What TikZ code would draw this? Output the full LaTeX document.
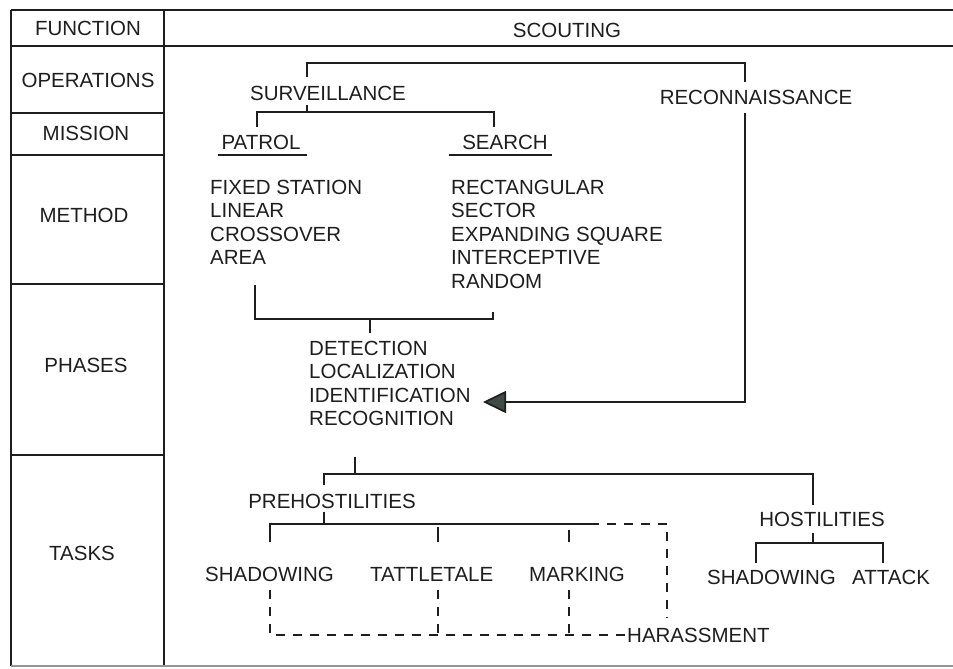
\documentclass[tikz,border=0pt]{standalone}
\usepackage{fontspec}
\setmainfont{Liberation Sans}
\usetikzlibrary{arrows.meta}
\definecolor{ink}{RGB}{30,30,30}
\definecolor{tipfill}{RGB}{62,76,70}
\definecolor{rulegray}{RGB}{150,150,150}
\newcommand{\lab}{\fontsize{20.5}{23.4}\selectfont}
\tikzset{
  lbl/.style={inner sep=0pt, text height=14.7pt, text depth=0pt, font=\lab, text=ink},
  lblw/.style={lbl, anchor=west},
  ln/.style={draw=ink, line width=1.7pt},
  dsh/.style={draw=ink, line width=1.7pt, dash pattern=on 9pt off 8pt},
  frame/.style={draw=ink, line width=1.5pt}
}
\begin{document}
\begin{tikzpicture}[x=1pt,y=-1pt]
\useasboundingbox (0,0) rectangle (953,669);
\fill[white] (0,0) rectangle (953,669);

% table frame
\draw[frame] (11,10) -- (953,10);
\draw[frame] (11,46) -- (953,46);
\draw[frame] (11,10) -- (11,666);
\draw[frame] (164,10) -- (164,666);
\draw[frame] (11,113) -- (164,113);
\draw[frame] (11,155) -- (164,155);
\draw[frame] (11,284) -- (164,284);
\draw[frame] (11,455) -- (164,455);
\draw[draw=rulegray, line width=2pt] (11,666) -- (953,666);

% row headings
\node[lbl] (fn)  at (88,28)  {FUNCTION};
\node[lbl] (ops) at (88,80)  {OPERATIONS};
\node[lbl] (mis) at (86,133) {MISSION};
\node[lbl] (met) at (84,215) {METHOD};
\node[lbl] (pha) at (86,365) {PHASES};
\node[lbl] (tsk) at (82,553) {TASKS};
\node[lbl] (sc)  at (567,30) {SCOUTING};

% operations
\node[lbl] (surv)  at (328,93) {SURVEILLANCE};
\node[lbl] (recon) at (756,97) {RECONNAISSANCE};
\coordinate (opl) at (307,63);
\coordinate (opr) at (745,63);
\draw[ln] (307,77) -- (opl) -- (opr) -- (745,82);

% missions
\node[lbl] (patrol) at (261,142) {PATROL};
\node[lbl] (search) at (505,142) {SEARCH};
\coordinate (msl) at (257,112);
\coordinate (msr) at (494,112);
\draw[ln] (307,105) -- (307,112);
\draw[ln] (257,127) -- (msl) -- (msr) -- (494,127);
\draw[ln] (218,155) -- (307,155);
\draw[ln] (449,155) -- (552,155);

% methods
\node[lblw] (fix)  at (210,187)   {FIXED STATION};
\node[lblw] (lin)  at (210,210.5) {LINEAR};
\node[lblw] (cro)  at (210,234)   {CROSSOVER};
\node[lblw] (are)  at (210,257.5) {AREA};
\node[lblw] (rec)  at (451,187)   {RECTANGULAR};
\node[lblw] (sec)  at (451,210.5) {SECTOR};
\node[lblw] (exp)  at (451,234)   {EXPANDING SQUARE};
\node[lblw] (int)  at (451,257.5) {INTERCEPTIVE};
\node[lblw] (ran)  at (451,281)   {RANDOM};
\coordinate (mbl) at (255,319);
\coordinate (mbr) at (493,319);
\draw[ln] (255,285) -- (mbl) -- (mbr) -- (493,312);
\draw[ln] (370,319) -- (370,333);

% phases
\node[lblw] (det) at (309,348) {DETECTION};
\node[lblw] (loc) at (309,371) {LOCALIZATION};
\node[lblw] (idf) at (309,395) {IDENTIFICATION};
\node[lblw] (rcg) at (309,418) {RECOGNITION};
\coordinate (rcorner) at (745,402);
\coordinate (tip) at (483,402);
\draw[ln, -{Triangle[length=23pt,width=22pt,fill=tipfill]}] (745,113) -- (rcorner) -- (tip);

% tasks
\node[lbl] (pre)  at (332,501) {PREHOSTILITIES};
\node[lbl] (host) at (822,519) {HOSTILITIES};
\coordinate (tbl) at (324,474);
\coordinate (tbr) at (813,474);
\draw[ln] (355,457) -- (355,474);
\draw[ln] (324,485) -- (tbl) -- (tbr) -- (813,505);

\node[lblw] (shad)  at (205,574) {SHADOWING};
\node[lblw] (tatt)  at (370,574) {TATTLETALE};
\node[lblw] (mark)  at (529,574) {MARKING};
\node[lblw] (hara)  at (627,635) {HARASSMENT};
\node[lblw] (shad2) at (707,577) {SHADOWING};
\node[lblw] (att)   at (852,577) {ATTACK};

% prehostilities branches
\coordinate (pbl) at (270,524);
\coordinate (pbm) at (590,524);
\coordinate (pbr) at (667,524);
\draw[ln] (324,512) -- (324,524);
\draw[ln] (270,542) -- (pbl) -- (pbm);
\draw[dsh] (pbm) -- (pbr) -- (667,618);
\draw[ln] (438,527) -- (438,542);
\draw[ln] (569,530) -- (569,542);

% harassment links
\coordinate (hbl) at (270,635);
\draw[dsh] (270,590) -- (hbl) -- (hara.west);
\draw[dsh] (438,590) -- (438,635);
\draw[dsh] (569,590) -- (569,635);

% hostilities branches
\coordinate (hsl) at (756,543);
\coordinate (hsr) at (883,543);
\draw[ln] (813,533) -- (813,543);
\draw[ln] (756,563) -- (hsl) -- (hsr) -- (883,563);
\end{tikzpicture}
\end{document}
